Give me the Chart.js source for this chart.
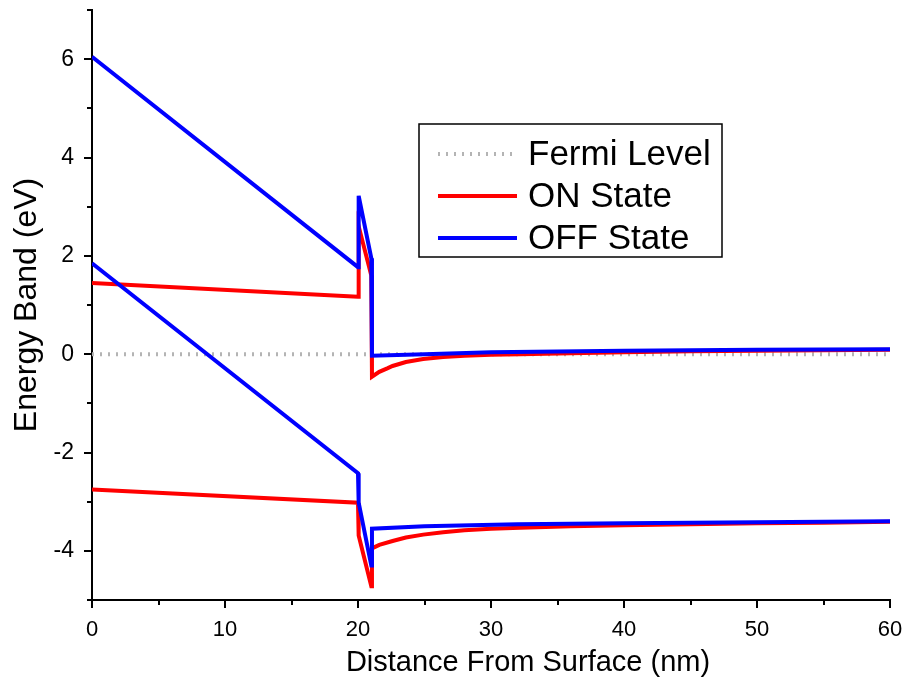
<!DOCTYPE html>
<html lang="en">
  <head>
    <meta charset="UTF-8" />
    <title>Energy Band</title>
    <script src="https://cdn.jsdelivr.net/npm/chart.js"></script>
    <style>
      body {
        margin: 0;
        background: #fff;
      }
      .chart-container {
        position: relative;
        width: 907px;
        height: 684px;
      }
    </style>
  </head>
  <body>
    <div class="chart-container"><canvas id="bands"></canvas></div>

    <script>
      // Fermi level reference
      const fermiX = [0, 60];
      const fermiY = [0, 0];

      // ON state: conduction and valence band edges
      const onCbX = [0, 20, 20.05, 21, 21.05, 21.6, 22.2, 22.6, 23.6, 24.9, 26.4, 28, 30, 32.2, 36, 40, 45, 50, 55, 60];
      const onCbY = [1.45, 1.17, 2.6, 1.6, -0.46, -0.36, -0.29, -0.24, -0.16, -0.1, -0.06, -0.03, -0.01, 0.0, 0.02, 0.04, 0.06, 0.07, 0.08, 0.09];
      const onVbX = [0, 20, 20.05, 21, 21.05, 21.6, 22.6, 23.6, 24.9, 26.4, 28, 30, 32.2, 36, 40, 45, 50, 55, 60];
      const onVbY = [-2.75, -3.02, -3.69, -4.72, -3.95, -3.88, -3.8, -3.73, -3.67, -3.62, -3.58, -3.55, -3.53, -3.5, -3.48, -3.46, -3.44, -3.43, -3.41];

      // OFF state: conduction and valence band edges
      const offCbX = [0, 20, 20.05, 21, 21.05, 25, 30, 40, 50, 60];
      const offCbY = [6.05, 1.77, 3.22, 1.95, -0.03, 0.0, 0.04, 0.07, 0.09, 0.1];
      const offVbX = [0, 20, 20.05, 21, 21.05, 25, 32, 40, 50, 60];
      const offVbY = [1.85, -2.42, -3.02, -4.3, -3.55, -3.5, -3.46, -3.44, -3.42, -3.4];

      const xTicks = [0, 10, 20, 30, 40, 50, 60];
      const yTicks = [-4, -2, 0, 2, 4, 6];
      const xTitle = "Distance From Surface (nm)";

      const FONT = "'Liberation Sans', Arial, sans-serif";

      function toPoints(xs, ys) {
        return xs.map((x, i) => ({ x: x, y: ys[i] }));
      }

      function bandLine(label, xs, ys, color, order) {
        return {
          label: label,
          data: toPoints(xs, ys),
          borderColor: color,
          borderWidth: 4,
          pointRadius: 0,
          tension: 0,
          fill: false,
          order: order,
        };
      }

      // major + minor tick marks drawn outside the axes, plus x title
      const tickMarks = {
        id: "tickMarks",
        afterDraw(chart) {
          const ctx = chart.ctx;
          const xs = chart.scales.x;
          const ys = chart.scales.y;
          ctx.save();
          ctx.strokeStyle = "#000";
          ctx.lineWidth = 2;
          for (let v = xs.min; v <= xs.max; v += 5) {
            const px = Math.round(xs.getPixelForValue(v));
            const len = v % 10 === 0 ? 8 : 5;
            ctx.beginPath();
            ctx.moveTo(px, xs.top);
            ctx.lineTo(px, xs.top + len);
            ctx.stroke();
          }
          for (let v = ys.min; v <= ys.max; v += 1) {
            const py = Math.round(ys.getPixelForValue(v));
            const len = v % 2 === 0 ? 8 : 5;
            ctx.beginPath();
            ctx.moveTo(ys.right, py);
            ctx.lineTo(ys.right - len, py);
            ctx.stroke();
          }
          // x axis title sits a little right of the axis centre
          ctx.fillStyle = "#000";
          ctx.font = "29px " + FONT;
          ctx.textAlign = "center";
          ctx.textBaseline = "middle";
          ctx.fillText(xTitle, (xs.left + xs.right) / 2 + 37, 663);
          ctx.restore();
        },
      };

      // boxed legend inside the plot, one row per distinct label
      const boxLegend = {
        id: "boxLegend",
        afterDatasetsDraw(chart) {
          const ctx = chart.ctx;
          const seen = [];
          const items = [];
          chart.data.datasets.forEach((ds) => {
            if (seen.includes(ds.label)) return;
            seen.push(ds.label);
            items.push(ds);
          });
          items.sort((a, b) => b.order - a.order);

          const left = 419, top = 124, w = 303, h = 133;
          ctx.save();
          ctx.fillStyle = "#fff";
          ctx.fillRect(left, top, w, h);
          ctx.strokeStyle = "#000";
          ctx.lineWidth = 1.5;
          ctx.strokeRect(left, top, w, h);

          ctx.font = "35px " + FONT;
          ctx.textBaseline = "middle";
          items.forEach((ds, i) => {
            const cy = top + 30 + i * 42;
            ctx.save();
            ctx.strokeStyle = ds.borderColor;
            ctx.lineWidth = ds.borderWidth;
            ctx.setLineDash(ds.borderDash || []);
            ctx.beginPath();
            ctx.moveTo(left + 19, cy);
            ctx.lineTo(left + 98, cy);
            ctx.stroke();
            ctx.restore();
            ctx.fillStyle = "#000";
            ctx.fillText(ds.label, left + 109, cy + 1);
          });
          ctx.restore();
        },
      };

      const fermi = bandLine("Fermi Level", fermiX, fermiY, "#b4b4b4", 2);
      fermi.borderDash = [2, 6];
      fermi.borderWidth = 4;

      new Chart(document.getElementById("bands").getContext("2d"), {
        type: "line",
        data: {
          datasets: [
            bandLine("OFF State", offCbX, offCbY, "#0000ff", 0),
            bandLine("OFF State", offVbX, offVbY, "#0000ff", 0),
            bandLine("ON State", onCbX, onCbY, "#ff0000", 1),
            bandLine("ON State", onVbX, onVbY, "#ff0000", 1),
            fermi,
          ],
        },
        options: {
          responsive: true,
          maintainAspectRatio: false,
          animation: false,
          layout: { padding: { top: 10, right: 17, left: 0, bottom: 0 } },
          plugins: {
            legend: { display: false },
            tooltip: { enabled: false },
          },
          scales: {
            x: {
              type: "linear",
              min: 0,
              max: 60,
              afterFit: (s) => {
                s.height = 84;
                s.paddingLeft = 0;
                s.paddingRight = 0;
              },
              afterBuildTicks: (s) => { s.ticks = xTicks.map((v) => ({ value: v })); },
              border: { display: true, color: "#000", width: 2 },
              grid: { drawOnChartArea: false, drawTicks: true, tickLength: 8, tickColor: "rgba(0,0,0,0)" },
              ticks: {
                color: "#000",
                padding: 9,
                maxRotation: 0,
                font: { family: FONT, size: 22 },
              },
            },
            y: {
              type: "linear",
              min: -5,
              max: 7,
              afterFit: (s) => {
                s.width = 92;
                s.paddingTop = 0;
                s.paddingBottom = 0;
              },
              afterBuildTicks: (s) => { s.ticks = yTicks.map((v) => ({ value: v })); },
              border: { display: true, color: "#000", width: 2 },
              grid: { drawOnChartArea: false, drawTicks: true, tickLength: 8, tickColor: "rgba(0,0,0,0)" },
              ticks: {
                color: "#000",
                padding: 10,
                font: { family: FONT, size: 23 },
              },
              title: {
                display: true,
                text: "Energy Band (eV)",
                color: "#000",
                font: { family: FONT, size: 32 },
                padding: { top: 8, bottom: 0 },
              },
            },
          },
        },
        plugins: [tickMarks, boxLegend],
      });
    </script>
  </body>
</html>
